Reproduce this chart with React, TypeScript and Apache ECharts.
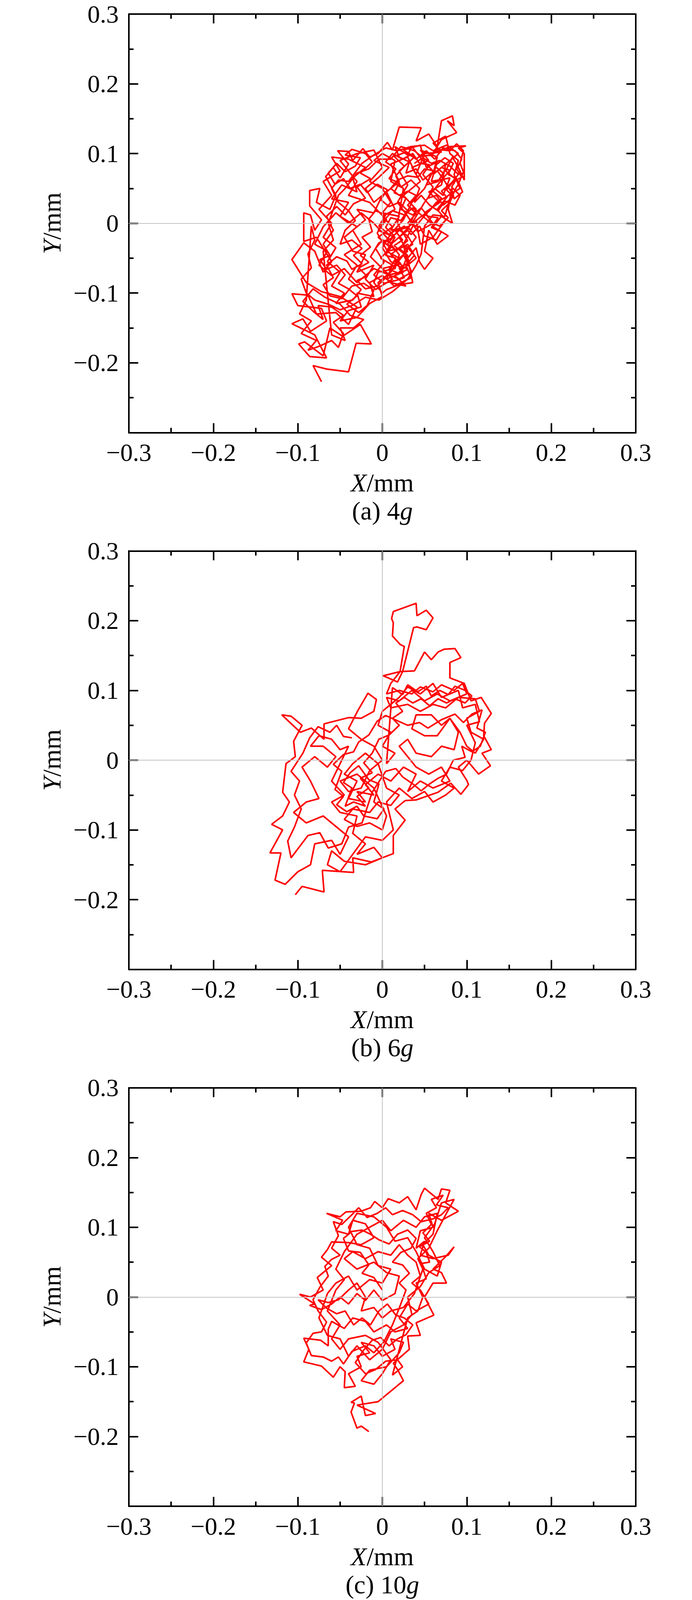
import React, { useEffect, useRef } from "react";
import * as echarts from "echarts";

const FONT = '"Liberation Serif", "Times New Roman", serif';

// Axis range (mm)
const axisMin = -0.3;
const axisMax = 0.3;
const axisStep = 0.1;

// Panel captions
const captionLetters = ["(a)", "(b)", "(c)"];
const captionLoads = ["4", "6", "10"];

// (a) 4g trajectory, [X mm, Y mm]
const path4g: number[][] = [
  [-0.072,-0.227],[-0.082,-0.204],[-0.066,-0.209],[-0.040,-0.213],[-0.031,-0.172],[-0.013,-0.173],[-0.026,-0.145],[-0.047,-0.162],[-0.062,-0.150],[-0.070,-0.190],[-0.092,-0.170],[-0.099,-0.173],[-0.086,-0.191],[-0.066,-0.193],[-0.080,-0.160],[-0.107,-0.144],[-0.094,-0.137],[-0.085,-0.155],[-0.066,-0.140],[-0.072,-0.122],[-0.100,-0.118],[-0.107,-0.101],[-0.088,-0.103],[-0.078,-0.130],[-0.055,-0.128],[-0.040,-0.145],[-0.030,-0.120],[-0.050,-0.105],[-0.072,-0.098],
  [-0.090,-0.085],[-0.107,-0.052],[-0.093,-0.028],[-0.080,-0.040],[-0.070,-0.070],[-0.060,-0.055],[-0.078,-0.020],[-0.093,-0.026],[-0.093,0.015],[-0.085,0.012],[-0.080,-0.010],[-0.072,0.005],[-0.086,0.025],[-0.086,0.047],[-0.074,0.050],[-0.078,0.030],[-0.062,0.020],[-0.055,0.040],[-0.067,0.067],[-0.058,0.080],[-0.050,0.065],[-0.040,0.085],[-0.053,0.104],[-0.040,0.103],[-0.035,0.090],[-0.023,0.107],[-0.015,0.095],[-0.005,0.100],[0.006,0.116],[0.012,0.105],
  [0.020,0.138],[0.046,0.137],[0.040,0.118],[0.055,0.128],[0.065,0.110],[0.070,0.147],[0.083,0.154],[0.085,0.140],[0.077,0.147],[0.088,0.130],[0.070,0.120],[0.060,0.100],[0.080,0.110],[0.099,0.111],[0.090,0.108],[0.097,0.100],[0.097,0.062],[0.090,0.080],[0.083,0.095],[0.075,0.075],[0.090,0.060],[0.095,0.045],[0.085,0.035],[0.082,0.050],
  [0.078,0.020],[0.083,0.000],[0.070,0.010],[0.060,-0.005],[0.078,-0.018],[0.065,-0.030],[0.055,-0.010],[0.050,-0.040],[0.060,-0.050],[0.050,-0.066],[0.044,-0.055],[0.040,-0.035],[0.030,-0.050],[0.036,-0.085],[0.020,-0.088],[0.005,-0.095],[0.000,-0.100],[-0.010,-0.085],[-0.005,-0.070],[0.015,-0.065],[0.020,-0.045],[0.010,-0.030],
  [0.030,-0.010],[0.040,0.020],[0.025,0.040],[0.045,0.060],[0.035,0.080],[0.055,0.090],[0.045,0.105],[0.065,0.095],[0.060,0.070],[0.075,0.085],[0.070,0.055],[0.055,0.045],[0.068,0.030],[0.050,0.015],[0.060,0.000],[0.042,-0.012],[0.030,0.010],[0.018,0.030],[0.030,0.055],[0.020,0.075],[0.038,0.095],[0.025,0.105],[0.045,0.112],[0.052,0.080],[0.065,0.088],[0.058,0.060],[0.080,0.065],[0.072,0.040],[0.062,0.050],[0.050,0.030],
  [0.035,0.000],[0.020,-0.020],[0.030,-0.040],[0.015,-0.055],[0.025,-0.070],[0.005,-0.080],[0.012,-0.060],[-0.002,-0.050],[0.010,-0.035],[-0.005,-0.020],[0.012,-0.005],[0.000,0.010],[0.015,0.020],[0.005,0.045],[-0.010,0.030],[-0.020,0.050],[-0.005,0.065],[0.008,0.080],[-0.010,0.090],[0.000,0.100],[0.015,0.090],[0.010,0.060],[0.025,0.050],[0.018,0.000],[0.030,-0.025],[0.010,-0.045],[0.022,-0.058],[0.000,-0.065],[0.012,-0.080],[-0.008,-0.095],[-0.020,-0.080],[-0.010,-0.060],[-0.030,-0.070],[-0.020,-0.045],[-0.035,-0.040],
  [-0.045,-0.020],[-0.030,-0.005],[-0.050,0.010],[-0.040,0.030],[-0.060,0.035],[-0.048,0.055],[-0.030,0.045],[-0.035,0.065],[-0.020,0.080],[-0.040,0.092],[-0.060,0.095],[-0.050,0.075],[-0.070,0.060],[-0.060,0.040],[-0.075,0.020],[-0.060,0.000],[-0.070,-0.020],[-0.055,-0.035],[-0.065,-0.055],[-0.050,-0.070],[-0.060,-0.090],[-0.045,-0.100],[-0.055,-0.115],[-0.035,-0.110],[-0.025,-0.095],[-0.040,-0.080],[-0.030,-0.060],[-0.045,-0.045],[-0.025,-0.030],[-0.035,-0.010],[-0.020,0.005],[-0.030,0.020],[-0.010,0.015],
  [0.000,0.040],[0.020,0.060],[0.010,0.085],[0.030,0.095],[0.040,0.070],[0.050,0.100],[0.070,0.102],[0.060,0.115],[0.075,0.125],[0.080,0.100],[0.090,0.090],[0.085,0.070],[0.092,0.050],[0.078,0.040],[0.065,0.020],[0.075,0.005],[0.060,-0.020],[0.045,-0.030],[0.040,0.005],
  [0.025,-0.030],[0.030,-0.060],[0.015,-0.075],[0.028,-0.090],[0.010,-0.085],[0.000,-0.075],[-0.015,-0.085],[-0.010,-0.105],[-0.030,-0.100],[-0.025,-0.120],[-0.040,-0.125],[-0.050,-0.140],[-0.030,-0.135],[-0.015,-0.115],[0.000,-0.105],[-0.005,-0.085],[0.010,-0.070],[0.020,-0.050],[0.005,-0.040],[0.015,-0.020],[-0.005,-0.010],[0.005,0.005],
  [-0.015,0.030],[-0.040,0.040],[-0.030,0.060],[-0.050,0.090],[-0.030,0.100],[-0.010,0.105],[0.000,0.080],[-0.015,0.060],[0.000,0.050],[0.010,0.030],[0.000,0.015],[0.020,0.010],[0.010,-0.010],[0.030,-0.005],[0.040,-0.020],[0.025,-0.045],[0.035,-0.070],[0.020,-0.080],
  [-0.010,-0.065],[-0.030,-0.085],[-0.045,-0.065],[-0.060,-0.075],[-0.075,-0.060],[-0.065,-0.040],[-0.080,-0.030],[-0.070,-0.005],[-0.055,0.015],[-0.040,0.000],[-0.025,0.015],[-0.010,0.000],[0.005,-0.020],[0.015,-0.040],[0.030,-0.030],[0.040,-0.050],[0.025,-0.065],[0.010,-0.055],[0.000,-0.035],[0.010,-0.015],[0.025,0.005],[0.035,0.030],[0.050,0.050],[0.060,0.075],[0.048,0.090],[0.035,0.110],[0.030,0.098],[0.015,0.110],[0.020,0.095],
  [0.032,0.088],[0.028,0.072],[0.040,0.078],[0.048,0.062],[0.058,0.072],[0.052,0.055],[0.066,0.060],[0.072,0.072],[0.062,0.082],[0.074,0.094],[0.084,0.086],[0.078,0.070],[0.088,0.064],[0.082,0.052],[0.092,0.040],[0.086,0.026],[0.074,0.032],[0.066,0.018],[0.056,0.026],[0.046,0.040],[0.038,0.030],[0.044,0.050],[0.034,0.062],[0.022,0.052],[0.016,0.068],[0.026,0.082],[0.014,0.096],[0.028,0.102],[0.040,0.092],[0.052,0.104],[0.062,0.092],[0.072,0.108],[0.086,0.104],[0.094,0.092],[0.088,0.078],[0.094,0.066],[0.084,0.060],[0.076,0.048],[0.084,0.038],[0.072,0.026],[0.064,0.040],[0.054,0.036],[0.060,0.052],[0.048,0.070],[0.056,0.084],[0.044,0.086],[0.036,0.100],[0.024,0.092],[0.012,0.100],[0.004,0.088],[0.016,0.078],[0.008,0.064],[0.020,0.058],[0.014,0.044],[0.028,0.036],[0.022,0.020],[0.036,0.012],[0.046,0.022],[0.054,0.010],[0.066,0.008],[0.058,-0.006],[0.070,-0.012],[0.064,-0.024],[0.050,-0.018],[0.044,-0.004],[0.034,-0.016],[0.026,-0.004],[0.016,-0.012],
  [0.024,-0.024],[0.014,-0.032],[0.026,-0.044],[0.018,-0.056],[0.030,-0.066],[0.020,-0.072],[0.008,-0.066],[0.016,-0.050],[0.004,-0.046],[0.012,-0.028],[0.000,-0.024],[-0.008,-0.036],[0.002,-0.056],[-0.010,-0.074],[0.002,-0.086],[0.016,-0.082],[0.026,-0.078],[0.020,-0.064],[0.032,-0.056],[0.026,-0.038],[0.036,-0.030],[0.030,-0.018],[0.018,-0.008],[0.008,-0.016],[-0.004,-0.004],[0.004,0.012],[-0.008,0.018],[-0.016,0.006],[-0.012,-0.012],[-0.024,-0.020],[-0.014,-0.034],[-0.026,-0.046],[-0.016,-0.056],[-0.028,-0.064],[-0.018,-0.076],[-0.030,-0.082],[-0.020,-0.094],[-0.006,-0.090],[0.004,-0.078],[0.014,-0.090],[0.024,-0.084],[0.034,-0.078],[0.028,-0.060],[0.038,-0.046],[0.028,-0.032],[0.016,-0.038],[0.006,-0.030],[0.014,-0.018],[0.004,-0.006],[0.010,0.008],[0.022,0.004],[0.030,0.018],[0.020,0.030],[0.008,0.024],[-0.002,0.034],[0.006,0.048],[-0.006,0.056],[-0.018,0.044],[-0.026,0.056],
  [-0.038,0.050],[-0.046,0.064],[-0.056,0.056],[-0.064,0.072],[-0.054,0.086],[-0.044,0.074],[-0.032,0.082],[-0.026,0.094],[-0.044,0.098],[-0.036,0.106],[-0.020,0.100],[-0.012,0.088],[-0.026,0.072],[-0.014,0.064],[-0.030,0.052],[-0.020,0.036],[-0.034,0.028],[-0.044,0.012],[-0.054,0.024],[-0.066,0.010],[-0.058,-0.010],[-0.070,-0.030],[-0.062,-0.046],[-0.074,-0.052],[-0.066,-0.066],[-0.054,-0.060],[-0.044,-0.074],[-0.052,-0.086],[-0.040,-0.094],[-0.030,-0.104],[-0.042,-0.116],[-0.028,-0.128],[-0.018,-0.118],[-0.010,-0.096],[-0.022,-0.086],[-0.036,-0.090],[-0.048,-0.108],[-0.062,-0.104],[-0.070,-0.088],[-0.058,-0.078],[-0.066,-0.060],[-0.054,-0.048],[-0.042,-0.054],[-0.036,-0.066],[-0.024,-0.058],[-0.034,-0.046],[-0.024,-0.036],[-0.036,-0.024],[-0.050,-0.030],[-0.044,-0.010],[-0.032,0.004],[-0.040,0.018],[-0.052,0.030],[-0.060,0.050],[-0.052,0.062],[-0.040,0.060],
  [-0.024,0.086],[-0.010,0.098],[0.004,0.108],[0.018,0.104],[0.034,0.110],[0.050,0.112],[0.060,0.104],[0.076,0.112],[0.090,0.100],[0.080,0.090],[0.070,0.080],[0.080,0.076],[0.070,0.062],[0.060,0.046],[0.070,0.036],[0.060,0.024],[0.048,0.008],[0.040,-0.004],[0.030,0.000],[0.040,0.014],[0.030,0.026],[0.040,0.040],[0.030,0.046],[0.020,0.040],[0.010,0.050],[0.018,0.062],[0.030,0.068],[0.042,0.066],[0.050,0.078],[0.066,0.074],[0.074,0.060],[0.082,0.044],[0.074,0.010],[0.060,0.012],[0.050,-0.004],[0.046,-0.044],[0.040,-0.060],[0.030,-0.080],[0.012,-0.098],[-0.004,-0.110],[-0.020,-0.106],[-0.036,-0.118],[-0.050,-0.124],[-0.064,-0.116],[-0.080,-0.110],[-0.090,-0.100],[-0.096,-0.080],[-0.084,-0.064],[-0.088,-0.044],[-0.080,-0.024],[-0.084,-0.004],
  [-0.090,-0.110],[-0.098,-0.130],[-0.084,-0.140],[-0.096,-0.158],[-0.078,-0.168],[-0.088,-0.182],[-0.074,-0.176],[-0.060,-0.168],[-0.052,-0.178],[-0.046,-0.158],[-0.058,-0.142],[-0.046,-0.132],[-0.060,-0.120],[-0.076,-0.118],[-0.070,-0.138],[-0.082,-0.126],[-0.094,-0.112],[-0.082,-0.094],[-0.068,-0.106],[-0.050,-0.116],[-0.038,-0.132],[-0.022,-0.138],[-0.034,-0.150],[-0.050,-0.150],[-0.044,-0.168],[-0.060,-0.160],
  [-0.070,-0.040],[-0.058,-0.024],[-0.064,0.000],[-0.052,0.040],[-0.044,0.050],[-0.030,0.072],[-0.016,0.078],[-0.004,0.092],[0.010,0.092],[0.022,0.110],[0.038,0.104],[0.046,0.096],[0.058,0.098],[0.066,0.106],[0.080,0.104],[0.088,0.114],[0.096,0.104],[0.092,0.086],[0.096,0.074],[0.090,0.056],[0.086,0.048],[0.080,0.030],[0.070,0.018],[0.078,0.008],[0.068,-0.004],[0.056,0.002],[0.046,0.012],[0.036,0.022],[0.026,0.012],[0.012,0.018],[0.002,0.004],[-0.006,-0.014],[0.006,-0.040],[0.020,-0.036],[0.030,-0.046],[0.022,-0.070],[0.008,-0.074],[-0.004,-0.060],[-0.014,-0.048],[-0.004,-0.028],[0.010,-0.022],[0.020,-0.010],[0.032,-0.004],[0.044,0.008],[0.056,0.018],[0.064,0.030],[0.076,0.038],[0.070,0.046],[0.082,0.058],[0.090,0.070],[0.080,0.082],[0.068,0.090],[0.058,0.086],[0.048,0.094],[0.038,0.086],
];

// (b) 6g trajectory, [X mm, Y mm]
const path6g: number[][] = [
  [-0.103,-0.193],[-0.095,-0.181],[-0.069,-0.189],[-0.071,-0.158],[-0.034,-0.161],[-0.035,-0.140],[-0.013,-0.146],[0.013,-0.134],[0.013,-0.108],[0.027,-0.086],[0.015,-0.070],[0.027,-0.058],[0.040,-0.057],[0.066,-0.046],[0.081,-0.033],[0.093,-0.049],[0.102,-0.035],[0.100,-0.029],[0.090,-0.010],[0.100,0.000],[0.114,-0.020],[0.128,-0.008],[0.118,0.010],[0.129,0.015],[0.120,0.035],[0.121,0.053],[0.129,0.067],[0.117,0.090],[0.105,0.085],[0.097,0.110],[0.080,0.118],[0.080,0.140],[0.093,0.147],[0.086,0.160],[0.073,0.159],[0.066,0.155],[0.058,0.144],[0.050,0.155],[0.038,0.128],[0.021,0.127],[0.001,0.121],[0.018,0.112],[0.024,0.127],[0.037,0.190],[0.041,0.191],[0.052,0.187],[0.060,0.204],[0.052,0.215],[0.041,0.207],[0.040,0.225],[0.013,0.213],[0.011,0.203],[0.013,0.197],[0.012,0.178],[0.021,0.166],[0.026,0.163],[0.021,0.127],[0.010,0.110],[0.005,0.095],
  [0.020,0.100],[0.035,0.095],[0.045,0.105],[0.060,0.098],[0.070,0.108],[0.085,0.100],[0.095,0.110],[0.100,0.095],[0.080,0.085],[0.065,0.095],[0.050,0.085],[0.035,0.100],[0.020,0.085],[0.005,0.090],[0.010,0.075],[0.030,0.080],[0.045,0.070],[0.060,0.080],[0.075,0.075],[0.090,0.090],[0.110,0.088],[0.115,0.070],[0.100,0.060],[0.105,0.040],[0.120,0.030],[0.110,0.010],[0.100,0.020],[0.092,0.040],[0.080,0.060],[0.070,0.050],
  [0.058,0.065],[0.040,0.065],[0.035,0.045],[0.050,0.035],[0.065,0.035],[0.080,0.060],[0.090,0.040],[0.085,0.015],[0.070,0.020],[0.058,0.005],[0.040,0.010],[0.030,0.030],[0.020,0.020],[0.040,-0.010],[0.055,-0.020],[0.070,-0.010],[0.080,-0.030],[0.060,-0.040],[0.045,-0.030],[0.030,-0.045],[0.040,-0.020],[0.025,-0.010],[0.010,-0.030],
  [-0.005,-0.020],[-0.020,-0.035],[-0.010,-0.050],[-0.030,-0.045],[-0.020,-0.060],[-0.040,-0.055],[-0.030,-0.030],[-0.045,-0.020],[-0.035,-0.005],[-0.020,0.010],[-0.005,-0.005],[0.005,-0.040],[0.020,-0.050],[0.010,-0.065],[-0.005,-0.060],[-0.015,-0.075],[-0.035,-0.070],[-0.045,-0.085],[-0.030,-0.095],[-0.015,-0.090],[0.000,-0.100],[0.005,-0.080],[-0.010,-0.040],[-0.030,-0.020],[-0.050,-0.030],[-0.040,-0.045],[-0.025,-0.040],[-0.015,-0.015],[0.000,0.000],[-0.010,0.020],[-0.025,0.030],
  [-0.040,0.045],[-0.029,0.071],[-0.017,0.096],[-0.007,0.087],[-0.010,0.070],[-0.025,0.060],[-0.040,0.061],[-0.069,0.052],[-0.069,0.030],[-0.084,0.046],[-0.097,0.040],[-0.119,0.065],[-0.108,0.063],[-0.095,0.050],[-0.105,0.027],[-0.103,0.005],[-0.114,-0.005],[-0.118,-0.046],[-0.110,-0.060],[-0.118,-0.080],[-0.131,-0.092],[-0.118,-0.100],[-0.133,-0.133],[-0.120,-0.133],[-0.127,-0.172],[-0.115,-0.178],
  [-0.100,-0.160],[-0.085,-0.150],[-0.080,-0.120],[-0.060,-0.115],[-0.050,-0.135],[-0.040,-0.110],[-0.055,-0.095],[-0.070,-0.080],[-0.090,-0.090],[-0.105,-0.075],[-0.090,-0.060],[-0.075,-0.055],[-0.085,-0.030],[-0.095,-0.010],[-0.080,0.005],[-0.065,-0.010],[-0.055,0.005],[-0.070,0.020],[-0.085,0.020],[-0.075,0.035],[-0.060,0.030],[-0.050,0.015],[-0.040,0.020],[-0.050,-0.005],[-0.060,-0.030],[-0.045,-0.050],[-0.060,-0.060],[-0.050,-0.075],[-0.030,-0.080],[-0.035,-0.105],[-0.020,-0.120],[-0.030,-0.135],[-0.010,-0.125],[0.000,-0.140],[-0.020,-0.150],[-0.045,-0.145],[-0.060,-0.130],[-0.065,-0.150],[-0.050,-0.160],
  [-0.020,-0.110],[0.000,-0.115],[0.013,-0.100],[0.005,-0.060],[0.020,-0.040],[0.035,-0.055],[0.050,-0.045],[0.060,-0.060],[0.075,-0.050],[0.085,-0.040],[0.070,-0.030],[0.080,-0.010],[0.095,-0.015],[0.105,0.000],[0.110,0.025],[0.100,0.050],[0.115,0.055],[0.110,0.080],[0.095,0.075],[0.090,0.100],[0.070,0.090],[0.060,0.110],[0.045,0.095],[0.030,0.105],[0.020,0.090],[0.000,0.070],[-0.005,0.050],[0.010,0.040],[0.000,0.020],[0.015,0.010],[0.005,-0.005],
  [0.012,0.104],[0.024,0.094],[0.030,0.108],[0.042,0.098],[0.052,0.106],[0.058,0.092],[0.068,0.100],[0.078,0.094],[0.086,0.106],[0.098,0.100],[0.106,0.092],[0.098,0.082],[0.086,0.088],[0.076,0.082],[0.066,0.088],[0.056,0.078],[0.046,0.088],[0.036,0.082],[0.026,0.090],[0.016,0.082],[0.024,0.070],[0.012,0.060],[0.020,0.050],
  [0.008,0.036],[-0.004,0.030],[-0.012,0.010],[-0.022,-0.004],[-0.012,-0.018],[-0.026,-0.026],[-0.016,-0.040],[-0.030,-0.052],[-0.020,-0.066],[-0.034,-0.060],[-0.044,-0.066],[-0.036,-0.040],[-0.046,-0.032],[-0.038,-0.018],[-0.028,-0.008],[-0.016,-0.028],[-0.004,-0.034],[-0.010,-0.060],[0.002,-0.070],[-0.006,-0.084],[-0.022,-0.080],[-0.030,-0.066],[-0.042,-0.074],[-0.054,-0.064],[-0.046,-0.052],[-0.056,-0.042],[-0.048,-0.016],[-0.058,-0.006],[-0.046,0.008],[-0.034,0.012],[-0.028,0.026],[-0.016,0.036],[-0.006,0.056],[0.004,0.064],
  [0.030,0.050],[0.044,0.054],[0.054,0.046],[0.070,0.058],[0.086,0.066],[0.096,0.054],[0.106,0.066],[0.118,0.072],[0.112,0.046],[0.122,0.040],[0.116,0.020],[0.106,0.012],[0.094,0.020],[0.098,0.004],[0.084,0.000],[0.076,-0.020],[0.066,-0.026],[0.056,-0.034],[0.046,-0.044],[0.036,-0.034],[0.024,-0.024],[0.016,-0.012],[0.004,-0.016],
  [-0.012,-0.046],[-0.024,-0.090],[-0.040,-0.096],[-0.048,-0.120],[-0.064,-0.126],[-0.074,-0.104],[-0.088,-0.108],[-0.098,-0.124],[-0.108,-0.140],[-0.112,-0.116],[-0.104,-0.096],[-0.096,-0.070],[-0.104,-0.050],[-0.098,-0.030],[-0.108,-0.016],[-0.094,0.010],[-0.086,0.032],[-0.076,0.048],[-0.062,0.040],[-0.054,0.050],[-0.046,0.034],[-0.036,0.032],
];

// (c) 10g trajectory, [X mm, Y mm]
const path10g: number[][] = [
  [-0.016,-0.193],[-0.025,-0.185],[-0.030,-0.188],[-0.037,-0.165],[-0.033,-0.152],[-0.037,-0.151],[-0.025,-0.142],[-0.020,-0.170],[-0.008,-0.167],[-0.030,-0.155],[-0.005,-0.150],[0.025,-0.120],[0.018,-0.104],[0.013,-0.095],[0.032,-0.075],[0.030,-0.056],[0.045,-0.055],[0.040,-0.037],[0.061,-0.026],[0.050,0.000],[0.060,0.020],[0.076,0.020],[0.070,0.035],[0.060,0.040],[0.075,0.058],[0.085,0.072],[0.078,0.060],[0.060,0.055],[0.045,0.060],[0.050,0.080],[0.040,0.070],[0.045,0.095],[0.060,0.100],[0.055,0.120],[0.070,0.110],[0.090,0.123],[0.075,0.135],[0.080,0.153],[0.070,0.155],[0.066,0.140],[0.050,0.156],[0.046,0.147],[0.040,0.125],[0.030,0.144],[0.020,0.135],[0.007,0.141],[0.000,0.128],[-0.009,0.137],[-0.014,0.128],[-0.025,0.123],[-0.043,0.122],[-0.050,0.115],[-0.066,0.120],[-0.047,0.110],[-0.055,0.095],[-0.040,0.090],[-0.035,0.110],[-0.020,0.105],[-0.010,0.085],[-0.025,0.075],[-0.040,0.078],[-0.060,0.079],[-0.065,0.068],[-0.072,0.057],[-0.060,0.045],[-0.070,0.035],[-0.077,0.028],[-0.070,0.010],[-0.085,0.000],[-0.098,0.004],[-0.080,-0.010],[-0.086,-0.012],[-0.072,-0.018],[-0.060,-0.010],[-0.050,0.000],[-0.040,-0.010],[-0.030,0.005],[-0.020,-0.005],[-0.010,0.010],[0.000,-0.005],[0.015,0.005],[0.020,0.030],[0.005,0.035],[-0.010,0.050],[-0.030,0.040],[-0.045,0.055],[-0.035,0.065],[-0.020,0.055],[-0.005,0.065],[0.010,0.060],[0.020,0.075],[0.030,0.060],[0.040,0.050],[0.045,0.030],[0.035,0.020],[0.045,0.010],[0.055,-0.010],[0.040,-0.020],[0.030,-0.010],[0.020,-0.030],[0.030,-0.045],[0.015,-0.050],[0.005,-0.040],[-0.010,-0.050],[-0.020,-0.035],[-0.035,-0.030],[-0.045,-0.045],[-0.060,-0.035],[-0.064,-0.046],[-0.064,-0.070],[-0.073,-0.062],[-0.093,-0.059],[-0.087,-0.075],[-0.093,-0.093],[-0.072,-0.099],[-0.058,-0.115],[-0.050,-0.100],[-0.044,-0.107],[-0.045,-0.130],[-0.032,-0.128],[-0.040,-0.110],[-0.025,-0.100],[-0.030,-0.085],[-0.015,-0.080],[-0.025,-0.065],[-0.010,-0.070],[0.000,-0.085],[0.015,-0.075],[0.010,-0.060],[0.025,-0.065],[0.020,-0.080],[0.005,-0.100],[-0.015,-0.105],[-0.025,-0.120],[-0.010,-0.125],
  [0.000,-0.110],[0.010,-0.090],[-0.005,-0.065],[-0.020,-0.055],[-0.040,-0.060],[-0.050,-0.075],[-0.060,-0.060],[-0.050,-0.040],[-0.065,-0.020],[-0.055,0.010],[-0.045,0.025],[-0.055,0.040],[-0.045,0.065],[-0.030,0.090],[-0.015,0.100],[0.000,0.110],[0.010,0.095],[0.025,0.110],[0.040,0.100],[0.050,0.115],[0.065,0.120],[0.060,0.090],[0.048,0.075],[0.055,0.060],[0.070,0.050],[0.065,0.030],[0.050,0.040],[0.040,0.065],[0.030,0.085],[0.015,0.080],[0.005,0.100],[-0.010,0.115],[-0.030,0.120],[-0.040,0.100],[-0.030,0.075],[-0.015,0.070],[-0.005,0.045],[0.010,0.040],[0.000,0.020],[-0.015,0.025],[-0.030,0.010],[-0.040,0.030],[-0.055,0.020],[-0.065,0.005],[-0.075,-0.030],[-0.065,-0.055],[-0.050,-0.060],[-0.040,-0.085],[-0.030,-0.070],[-0.015,-0.090],[0.000,-0.075],[0.010,-0.050],[0.025,-0.040],[0.035,-0.025],[0.030,0.000],[0.045,0.015],[0.055,0.035],[0.068,0.045],[0.060,0.065],[0.050,0.085],[0.062,0.105],[0.070,0.135],[0.085,0.140],[0.075,0.118],[0.065,0.095],[0.055,0.070],[0.042,0.055],[0.048,0.040],[0.038,0.005],[0.025,-0.015],[0.010,-0.020],[0.000,-0.030],[-0.010,-0.015],[-0.025,-0.020],[-0.020,0.000],[-0.030,0.020],
  [-0.040,0.010],[-0.052,-0.004],[-0.064,-0.008],[-0.076,-0.004],[-0.066,-0.016],[-0.054,-0.024],[-0.044,-0.020],[-0.034,-0.040],[-0.024,-0.030],[-0.014,-0.040],[-0.004,-0.020],[0.006,-0.010],[0.016,-0.026],[0.026,-0.030],[0.036,-0.040],[0.028,-0.054],[0.018,-0.060],[0.008,-0.070],[-0.002,-0.058],[-0.012,-0.062],[-0.022,-0.076],[-0.032,-0.094],[-0.020,-0.110],[-0.008,-0.104],[0.004,-0.092],[0.018,-0.090],[0.024,-0.100],[0.012,-0.112],
  [0.030,-0.030],[0.042,-0.020],[0.048,0.000],[0.040,0.020],[0.052,0.026],[0.046,0.048],[0.056,0.050],[0.052,0.064],[0.044,0.072],[0.056,0.080],[0.048,0.092],[0.058,0.104],[0.052,0.120],[0.064,0.128],[0.058,0.140],[0.072,0.146],[0.064,0.132],[0.078,0.128],[0.070,0.118],[0.060,0.112],[0.046,0.108],[0.036,0.118],[0.024,0.124],[0.012,0.118],[0.004,0.128],[-0.006,0.120],[-0.018,0.114],[-0.028,0.128],[-0.036,0.118],[-0.048,0.104],[-0.058,0.108],[-0.052,0.088],[-0.060,0.070],[-0.050,0.060],[-0.060,0.054],[-0.068,0.044],[-0.064,0.030],[-0.074,0.014],[-0.082,-0.004],[-0.076,-0.020],[-0.066,-0.036],[-0.072,-0.050],[-0.082,-0.052],[-0.090,-0.066],[-0.084,-0.084],[-0.070,-0.086],[-0.060,-0.092],[-0.052,-0.086],[-0.046,-0.096],[-0.036,-0.078],[-0.020,-0.070],[-0.010,-0.080],[0.002,-0.064],[0.012,-0.040],[0.020,-0.016],[0.028,0.010],[0.020,0.020],[0.032,0.034],[0.024,0.046],[0.012,0.050],[0.022,0.064],[0.034,0.070],[0.040,0.084],[0.030,0.096],[0.018,0.090],[0.008,0.076],[-0.004,0.082],[-0.014,0.090],[-0.024,0.096],[-0.036,0.094],[-0.046,0.084],[-0.040,0.066],[-0.026,0.064],[-0.016,0.046],[-0.024,0.034],[-0.010,0.028],[0.000,0.010],
];

const paths = [path4g, path6g, path10g];

function fmtTick(v: number): string {
  const r = Math.round(v * 10) / 10;
  if (Math.abs(r) < 1e-9) return "0";
  return (r < 0 ? "\u2212" : "") + Math.abs(r).toFixed(1);
}

const PAGE_W = 1772;
const PAGE_H = 4843;

export default function App() {
  const ref = useRef<HTMLDivElement>(null);
  const viewH = Math.min(PAGE_H, (typeof window !== "undefined" && window.innerHeight) || PAGE_H);

  useEffect(() => {
    if (!ref.current) return;
    const chart = echarts.init(ref.current, null, { renderer: "svg" });

    // Fit the three panels into the visible height (exact reference layout when all 4843 px are visible)
    const sy = viewH / PAGE_H;
    const full = sy >= 0.999;
    const top0 = full ? 32 : 36;
    const pitch = 1625 * sy;
    const nameGap = full ? 135 : 128;
    const capGap = full ? 208 : 200;
    const belowBudget = capGap + 36;
    const gH = Math.min(1306, viewH - 4 - belowBudget - top0 - 2 * pitch);
    const tops = [0, 1, 2].map((k) => top0 + k * pitch);
    const gLeft = 330;
    const gW = 1298;
    const black = "#000000";

    const grid: any[] = [];
    const xAxis: any[] = [];
    const yAxis: any[] = [];
    const series: any[] = [];
    const graphic: any[] = [];

    const axisBase = (gridIndex: number) => ({
      gridIndex,
      type: "value",
      min: axisMin,
      max: axisMax,
      interval: axisStep,
      axisLine: { show: true, onZero: false, lineStyle: { color: black, width: 4 } },
      axisTick: { show: true, inside: true, length: 24, lineStyle: { color: black, width: 4 } },
      minorTick: { show: true, inside: true, splitNumber: 2, length: 12, lineStyle: { color: black, width: 4 } },
      splitLine: { show: false },
      minorSplitLine: { show: false },
    });

    const labelStyle = {
      fontFamily: FONT,
      fontSize: 64,
      color: black,
    };

    tops.forEach((t, i) => {
      grid.push({ left: gLeft, top: t, width: gW, height: gH, containLabel: false });
      xAxis.push({
        ...axisBase(i),
        position: "bottom",
        axisLabel: { ...labelStyle, margin: 19, showMinLabel: true, showMaxLabel: true, formatter: (v: number) => fmtTick(v) },
      });
      xAxis.push({ ...axisBase(i), position: "top", axisLabel: { show: false } });
      yAxis.push({
        ...axisBase(i),
        position: "left",
        axisLabel: {
          ...labelStyle,
          margin: 26,
          showMinLabel: true,
          showMaxLabel: true,
          formatter: (v: number) => (Math.abs(v - axisMin) < 1e-9 ? "" : fmtTick(v)),
        },
      });
      yAxis.push({ ...axisBase(i), position: "right", axisLabel: { show: false } });

      series.push({
        type: "line",
        xAxisIndex: 2 * i,
        yAxisIndex: 2 * i,
        data: [],
        silent: true,
        z: 1,
        markLine: {
          silent: true,
          symbol: ["none", "none"],
          label: { show: false },
          lineStyle: { color: "#c4c4c4", width: 2, type: "solid" },
          data: [{ xAxis: 0 }, { yAxis: 0 }],
        },
      });
      series.push({
        type: "line",
        xAxisIndex: 2 * i,
        yAxisIndex: 2 * i,
        data: paths[i],
        showSymbol: false,
        symbol: "none",
        silent: true,
        z: 3,
        lineStyle: { color: "#ff0000", width: 4 },
      });

      const cx = gLeft + gW / 2;
      const bottom = t + gH;
      const nameSize = 66;
      const rich = {
        i: { fontFamily: FONT, fontSize: nameSize, fontStyle: "italic", fill: black },
        n: { fontFamily: FONT, fontSize: nameSize, fill: black },
      };
      const txt = (text: string, x: number, y: number, rotation = 0) => ({
        type: "text",
        x,
        y,
        rotation,
        silent: true,
        style: {
          text,
          align: "center",
          verticalAlign: "middle",
          textAlign: "center",
          textVerticalAlign: "middle",
          fontFamily: FONT,
          fontSize: nameSize,
          fill: black,
          rich,
        },
      });
      graphic.push(txt("{i|X}{n|/mm}", cx, bottom + nameGap));
      graphic.push(txt("{i|Y}{n|/mm}", 132, t + gH / 2, Math.PI / 2));
      graphic.push(txt(`{n|${captionLetters[i]} ${captionLoads[i]}}{i|g}`, cx, bottom + capGap));
    });

    chart.setOption({
      animation: false,
      backgroundColor: "#ffffff",
      grid,
      xAxis,
      yAxis,
      series,
      graphic,
    });

    return () => {
      chart.dispose();
    };
  }, [viewH]);

  return (
    <div
      ref={ref}
      style={{ position: "absolute", left: 0, top: 0, width: PAGE_W, height: viewH, background: "#ffffff" }}
    />
  );
}
